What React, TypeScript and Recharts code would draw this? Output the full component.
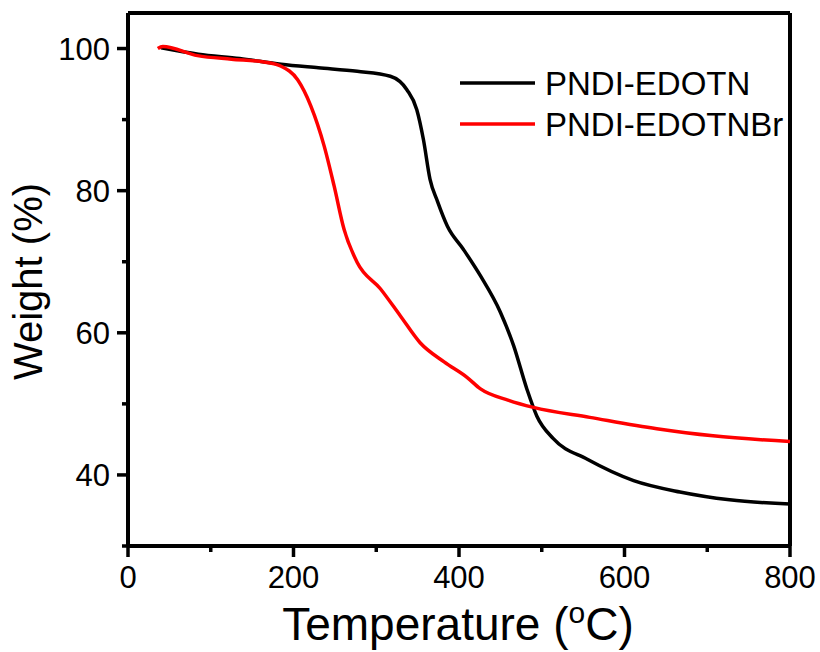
import React from "react";
import {
  Line,
  LineChart,
  ReferenceLine,
  XAxis,
  YAxis,
} from "recharts";

// TGA curves
const tempsN = [40, 85, 135, 185, 230, 277, 317, 337, 349, 357, 365, 374, 386, 405, 426, 450, 466, 482, 494, 514, 555, 611, 667, 727, 800];
const weightN = [100.1, 99.2, 98.6, 97.8, 97.3, 96.8, 96.1, 94.2, 91.4, 87.2, 81.6, 78.5, 75.0, 71.8, 68.0, 62.9, 58.2, 52.1, 48.3, 45.1, 42.2, 39.2, 37.6, 36.5, 35.9];

const tempsBr = [36, 42, 84, 125, 164, 185, 205, 221, 237, 249, 261, 277, 305, 329, 353, 382, 410, 426, 460, 490, 558, 639, 707, 800];
const weightBr = [100, 100.3, 99.0, 98.5, 98.1, 97.5, 95.6, 91.9, 86.3, 80.7, 74.6, 69.9, 66.2, 62.4, 58.6, 55.9, 53.7, 52.1, 50.5, 49.5, 48.1, 46.5, 45.5, 44.7];

const xTicks = [0, 100, 200, 300, 400, 500, 600, 700, 800];
const xLabelled = [0, 200, 400, 600, 800];
const yTicks = [30, 40, 50, 60, 70, 80, 90, 100];
const yLabelled = [40, 60, 80, 100];

const series = [
  { name: "PNDI-EDOTN", color: "#000000", data: tempsN.map((t, i) => ({ t, w: weightN[i] })) },
  { name: "PNDI-EDOTNBr", color: "#ff0000", data: tempsBr.map((t, i) => ({ t, w: weightBr[i] })) },
];

const FONT = "'Liberation Sans', Arial, sans-serif";

function XTick(props: any) {
  const { x, y, payload } = props;
  const major = xLabelled.includes(payload.value);
  return (
    <g>
      <line x1={x} x2={x} y1={y} y2={y + (major ? 11 : 6)} stroke="#000" strokeWidth={3.5} />
      {major && (
        <text x={x} y={y + 42} textAnchor="middle" fontSize={31} fontFamily={FONT} fill="#000">
          {payload.value}
        </text>
      )}
    </g>
  );
}

function YTick(props: any) {
  const { x, y, payload } = props;
  const major = yLabelled.includes(payload.value);
  return (
    <g>
      <line x1={x} x2={x - (major ? 11 : 6)} y1={y} y2={y} stroke="#000" strokeWidth={3.5} />
      {major && (
        <text x={x - 18} y={y + 11} textAnchor="end" fontSize={31} fontFamily={FONT} fill="#000">
          {payload.value}
        </text>
      )}
    </g>
  );
}

function LegendBox() {
  return (
    <svg width={350} height={90} style={{ position: "absolute", left: 460, top: 60 }}>
      {series.map((s, i) => (
        <g key={s.name}>
          <line x1={0} x2={75} y1={23 + i * 41} y2={23 + i * 41} stroke={s.color} strokeWidth={3.5} />
          <text x={85} y={23 + i * 41 + 12} fontSize={33} fontFamily={FONT} fill="#000">
            {s.name}
          </text>
        </g>
      ))}
    </svg>
  );
}

export default function App() {
  return (
    <div style={{ position: "relative", width: 820, height: 652, background: "#fff" }}>
      <style>{`body{margin:0}`}</style>
      <LineChart width={820} height={652} margin={{ top: 13, right: 30, left: 0, bottom: 0 }}>
        <XAxis
          dataKey="t"
          type="number"
          domain={[0, 800]}
          ticks={xTicks}
          interval={0}
          allowDuplicatedCategory={false}
          height={106}
          tickSize={0}
          tickMargin={0}
          tickLine={false}
          tick={<XTick />}
          axisLine={{ stroke: "#000", strokeWidth: 4 }}
          label={{
            content: () => (
              <text x={458} y={640} textAnchor="middle" fontSize={46} fontFamily={FONT} fill="#000">
                Temperature (<tspan fontSize={30} dy={-17}>o</tspan>
                <tspan dy={17}>C)</tspan>
              </text>
            ),
          }}
        />
        <YAxis
          dataKey="w"
          type="number"
          domain={[30, 105]}
          ticks={yTicks}
          interval={0}
          width={128}
          tickSize={0}
          tickMargin={0}
          tickLine={false}
          tick={<YTick />}
          axisLine={{ stroke: "#000", strokeWidth: 4 }}
          label={{
            content: (p: any) => {
              const vb = p.viewBox;
              const cy = vb.y + vb.height / 2 + 2;
              return (
                <text
                  x={42}
                  y={cy}
                  transform={`rotate(-90 42 ${cy})`}
                  textAnchor="middle"
                  fontSize={40}
                  fontFamily={FONT}
                  fill="#000"
                >
                  Weight (%)
                </text>
              );
            },
          }}
        />
        <ReferenceLine y={105} stroke="#000" strokeWidth={4} />
        <ReferenceLine x={800} stroke="#000" strokeWidth={4} />
        {series.map((s) => (
          <Line
            key={s.name}
            data={s.data}
            dataKey="w"
            name={s.name}
            type="monotone"
            stroke={s.color}
            strokeWidth={3.5}
            dot={false}
            activeDot={false}
            isAnimationActive={false}
          />
        ))}
      </LineChart>
      <LegendBox />
    </div>
  );
}
